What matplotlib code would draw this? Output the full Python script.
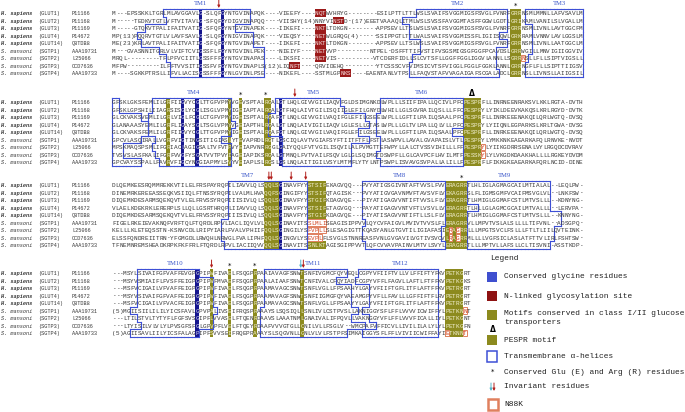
import matplotlib
matplotlib.use("Agg")
import matplotlib.pyplot as plt
from matplotlib.collections import LineCollection
from matplotlib.patches import Rectangle

# ---- row labels ----
species = ['H. sapiens'] * 5 + ['S. mansoni'] * 4
genes = ['(GLUT1)', '(GLUT2)', '(GLUT3)', '(GLUT4)', '(GLUT14)',
         '(SGTP1)', '(SGTP2)', '(SGTP3)', '(SGTP4)']
accessions = ['P11166', 'P11168', 'P11169', 'P14672', 'Q8TDB8',
              'AAA19731', 'L25066', 'CCD7636', 'AAA19733']

# ---- alignment, 4 blocks ----
block1 = [
    "M---EPSSKKLTGRLMLAVGGAVLG-SLQFGYNTGVINAPQK----VIEEFY----NQTWVHRYG--------ESILPTTLTTLWSLSVAIFSVGGMIGSFSVGLFVNRFGRRNSMLMMNLLAFVSAVLM",
    "M-----TEDKVTGTLVFTVITAVLG-SFQFGYDIGVINAPQQ----VIISHY(14)NNYVINSTD-(17)EEETVAAAQLITMLWSLSVSSFAVGGMTASFFGGWLGDTLGRIKAMLVANILSLVGALLM",
    "M-----GTQKVTPALIFAITVATIG-SFQFGYNTGVINAPEK----IIKEFI----NKTLTDKGN--------APPSEVLLTSLWSLSVAIFSVGGMIGSFSVGLFVNRFGRRNSMLIVNLLAVTGGCFM",
    "MP(13)PQQRVTGTLVLAVFSAVLG-SLQFGYNIGVINAPQK----VIEQSY----NETWLGRQG(4)-----SSIPPGTLTTLWALSVAIFSVGGMISSFLIGIISQWLGRKRAMLVNNVLAVLGGSLM",
    "ME(23)KRLAVTPALIFAITVATIG-SFQFGYNTGVINAPET----IIKEFI----NKTLTDKGN--------APPSEVLLTSLWSLSVAIFSVGGMIGSFSVGLFVNRFGRRNSMLIVNLLAATGGCLM",
    "M---GVASNNITGRLVLVIFTCVIGSSFLFGYNTGVINLPEK----NIEIYF----NETVVP---------NTPEL-DSFFTTIFVSTIFVSGSMIGSGFGGFPCAVDSLGRRWGILLMNVIGIIGGVIV",
    "MRQL---------TFLPFVCIITLGSSFFFGYNTGVINAPAS----LIKSFI----NETVIS----------VTCDERFIDLLSLCVTSFLLGGFFGGLIGGVLANNLLSGRRNSLLFLLSIPTVIGSLL",
    "MFPW---------ILFFTVVSITIGSSFVFGYNTGVINAPLS(12)LIQNFT----QRVIDEHQ---------YTCSSSCVFVIMSICVTSFVIGGLFGGLFGGKLANNLGRRNGFLFLLSIPTTIIGSV",
    "M----SGKKPTRSLLIFVLLACISGSSFFFGYNLGVINLPSE----NIKEFL----SSTMLGPNKS----EAENTANLVTPSLLFAQVSTAFVVAGAIGAFSCGALADCLGRRNSLLIVNSLLAIIGSIL",
]
block2 = [
    "GFSKLGKSFEMLILGRFIIGVYCGLTTGFVPMYVGEVSPTALRGALGTLHQLGIVVGILIAQVFGLDSIMGNKDLWPLLLSIIFIPALLQCIVLPFCPESPRFLLINRNEENRAKSVLKKLRGTA-DVTH",
    "GFSKLGPSHILIIAGRSISGLYCGLISGLVPMYIGEIAPTALRGALGTFHQLAIVTGILISQIIGLEFILGNYDLWHILLGLSGVRAILQSLLLFFCPESPRYLYIKLDEEVKAKQSLKRLRGYD-DVTK",
    "GLCKVAKSVEMLILGRLVIGLFCGLCTGFVPMYIGEISPTALRGAFGTLNQLGIVVGILVAQIFGLEFILGSEELWPLLLGFTILPAILQSAALPFCPESPRFLLINRKEEENAKQILQRLWGTQ-DVSQ",
    "GLANAAASYEMLILGRFLIGAYSGLTSGLVPMYVGEIAPTHLRGALGTLNQLAIVIGILIAQVLGLESLLGTASLWPLLLGLTVLPALLQLVLLPFCPESPRYLYIIQNLEGPARKSLKRLTGWA-DVSG",
    "GLCKVAKSFEMLILGRFIIGVYCGLTTGFVPMYIGEISPTALRGAFGTLNQLGIVVGILVAQIFGLEFILGSEELWPLLLGFTILPAILQSAALPFCPESPRFLLINRKEEENAKQILQRLWGTQ-DVSQ",
    "GPCVLASQIRALLVGRFVIGTINGSITIGIASLYTEVAPRDLRGTLGSCIQLAVTVGIAFSYFTIITFTFLFSTLASWPVLLAVALGVAPAISLVTLPESPRYLYMKKNKEAEARKAFQLRNVKE-NVDT",
    "MPSKMAQSPSMLIFGRIACLAGIGSALTVFVTPVYEIAPVNRRGGLGAIYQQLFVTVGILISQVILALPVMGTTEFWPYLLALCTVSSVIHILLLFFPESPRYLYIIKGDRRSENALVYLRGQDCDVRAV",
    "TVSVSLASFKALIFGRFVVGFYSGATVVTPVYIAGEIAPIKSRGALGTMNQLFVTVAILFSQVLGLGLSQIMGTDSWPFLLGLCAVPCFLHVILMTFPESSKYLYLVKGDKDAAKHALLLLRGKEYDVDM",
    "GPCVAYSSPALLFAVRVFIGCYNGGIAPMYLSVYVEIAPLSLRGSLGSLNQLAITIGILVSYLMTMFLYTYLNTPSWPLISVAVGSVPALLALILLFPESPRFLFIKKGKEAEARKAFQRLNCID-DINE",
]
block3 = [
    "DLQEMKEESRQMMREKKVTILELFRSPAYRQPILIAVVLQLSQQLSGINAVFYYSTSIFEKAGVQQ---PVYATIGSGIVNTAFTVVSLFVVERAGRRTLHLIGLAGMAGCAILMTIALAL--LEQLPW-",
    "DINEMRKEREEASSEQKVSIIQLFTNSSYRQPILVALMLHVAQQFSGINGIFYYSTSIFQTAGISK---PVYATIGVGAVNMVFTAVSVFLVEKAGRRSLFLIGMSGMFVCAIFMSVGLVL--LNKFSW-",
    "DIQEMKDESARMSQEKQVTVLELFRVSSYRQPIIISIVLQLSQQLSGINAVFYYSTGIFKDAGVQE---PIYATIGAGVVNTIFTVVSLFLVERAGRRTLHMIGLGGMAFCSTLMTVSLLL--KDNYNG-",
    "VLAELKDEKRKLERERPLSLLQLLGSRTHRQPLIIAVVLQLSQQLSGINAVFYYSTSIFETAGVGQ---PAYATIGAGVVNTVFTLVSVLLVERAGRRTLHLLGLAGMCGCAILMTVALLL--LERVPA-",
    "DIQEMKDESARMSQEKQVTVLELFRVSSYRQPIIISIVLQLSQQLSGINAVFYYSTGIFKDAGVQE---PIYATISAGVVNTIFTLLSLFLVERAGRRTLHMIGLGGMAFCSTLMTVSLLL--KNNYNG-",
    "FIGELRKEIEVAKNQFVRFTQLFTQRDLRPVLIACLIQVLVLQQLSGINAVITSSLMLISEAGISIPPVVLQYCVFAIGVLMVIVTVVSLFLERAGRRVLLMPVTVSLALSLLLLTIFVNL--ADSGPQ-",
    "KELLLKLETEQSSTN-KSNVCDLLRIPYIARLFVALVPHIIFQQLSGINGILYSFVPLLSLESAGIGTTKQASYANLGTGVTILIGIAFASIERAGRRLLLMPGTSVCLFSLLLFTLTLIILQVTEINK-",
    "ELSSFQNDREIITRN-YFGMGDLLRWQHLNRWGLFVALIPHFQQLSGINGVLYSEVPLFLSVGLSTNNREASFVNLGVGAVILVGTIVSVCVLRAGRRMLLLLVGFSICLASLATFTTVLIRLFSHTSW-",
    "TFNEMNREMSHEADKRPKFKFFRLFTQRDLRPVLIACIIQVVQQLSGINAVITSSNLKTAGISGIPPVVTLQFCVVAVPAINVLMTVLSVYLERAGRRTLLLMPTVLLAFSLLCLTISVNI-ASSTKDP-",
]
block4 = [
    "---MSYLSIVAIFGFVAFFEVGPGPIPWFIVAELFSQGPRPAAIAVAGFSNWTSNFIVGMCFQYVEQLCGPYVFIIFTVLLVLFFIFTYFKVPETKGRT",
    "---MSYVSMIAIFLFVSFFEIGPGPIPWFMVAEFFSQGPRPAALAIAAFSNWTCNFIVALCFQYIADFCGPYVFFLFAGVLLAFTLFTFFKVPETKGKS",
    "---MSFVCIGAILVFVAFFEIGPGPIPWFIVAELFSQGPRPAAMAVAGCSNWTSNFLVGLLFPSAAHYLGAYVFIIFTGFLITFLAFTFFKVPETRGRT",
    "---MSYVSIVAIFGFVAFFEIGPGPIPWFIVAELFSQGPRPAAMAVAGFSNWTSNFIIGMGFQYVAEAMGPYVFLLFAVLLLGFFIFTFLRVPETRGRT",
    "---MSFVCIGAILVFVACFEIGPGPIPWFIVAELFSQGPRPAAMAVAGCSNWTSNFLVGLLFPSAAYYLGAYVFIIFTGFLITFLAFTFFKVPETRGRT",
    "(5)MGIISIILILILYICSFAVLGPVPALIVSEIFRQSPRAAAYSLSQSIQLLSNLIVLCSTPVSLLAKNIGGYSFLFFLVVVVICWIFFYLPETKNNT",
    "---LTILSTVLTYTYFLFGFSVSGIPFLVVASELFTQENRDAAVSLAAATNMLGNAIVALIFPQVLLVAKNGGYVFLFFLVVVFICALLIYLPETKGNT",
    "---LTYISILVLVLYLPVSGFSFGLGPVPFLVELFTQEYRDAAFVVVGTGLLCNILVLLFSGLV--WMCPAFVFFICVLLIVILILALYLYLPETKGFN",
    "(5)AGIISAVLIILYICSFALAGPIPFSVVSEIFRQEPRAAAYSLSQGVNLLGNLVLVLFSTPFSIMKAIGGYSFLFFLVIVIICWIFFAYIETKNNT",
]
blocks = [block1, block2, block3, block4]

# ---- annotations (block index, column numbers are 1-based) ----
tm_labels = [(0, 'TM1', 25), (0, 'TM2', 96), (0, 'TM3', 124),
             (1, 'TM4', 23), (1, 'TM5', 56), (1, 'TM6', 86),
             (2, 'TM7', 38), (2, 'TM8', 80), (2, 'TM9', 109),
             (3, 'TM10', 18), (3, 'TM11', 56), (3, 'TM12', 80)]

# helix extent per row: (first column, last column)
tm_spans = {
    0: [[(15, 38), (16, 38), (10, 34), (8, 39), (9, 39), (14, 42), (16, 42), (17, 42), (17, 42)],
        [(85, 109), (81, 109), (83, 109), (83, 107), (86, 109), (86, 106), (84, 106), (83, 106), (83, 107)],
        [(115, 130), (115, 130), (117, 130), (117, 130), (117, 130), (117, 130), (116, 130), (115, 130), (115, 130)]],
    1: [[(1, 2), (1, 2), (1, 8), (1, 10), (1, 10), (1, 8), (1, 3), (1, 3), (1, 8)],
        [(12, 33), (12, 33), (11, 33), (11, 34), (11, 33), (13, 30), (12, 33), (13, 33), (14, 33)],
        [(46, 63), (46, 64), (44, 70), (44, 71), (44, 68), (48, 71), (48, 66), (48, 66), (48, 66)],
        [(75, 97), (75, 97), (74, 97), (74, 97), (74, 94), (75, 97), (75, 97), (74, 97), (75, 97)]],
    2: [[(33, 54), (33, 54), (33, 54), (33, 54), (33, 54), (31, 54), (31, 54), (31, 54), (32, 54)],
        [(70, 92), (70, 92), (70, 92), (70, 92), (70, 92), (71, 92), (70, 91), (70, 91), (71, 92)],
        [(99, 121), (99, 121), (99, 121), (102, 121), (99, 124), (99, 124), (99, 122), (99, 122), (99, 121)]],
    3: [[(8, 24), (8, 28), (8, 28), (8, 28), (8, 28), (6, 29), (8, 28), (9, 28), (6, 24)],
        [(43, 65), (43, 62), (43, 66), (43, 66), (43, 66), (42, 68), (42, 66), (42, 70), (42, 65)],
        [(69, 90), (68, 90), (72, 90), (72, 90), (72, 90), (70, 90), (72, 90), (74, 90), (70, 90)]],
}

glycine_cols = {0: [25, 31], 1: [20, 24, 47], 2: [47], 3: [24]}

# (block, first col, last col, rows or None for all)
motif_cells = [(0, 111, 113, None),
               (1, 16, 16, None), (1, 33, 33, None), (1, 36, 36, None), (1, 43, 44, None), (1, 98, 102, None),
               (2, 43, 46, None), (2, 55, 59, [0, 1, 2, 3, 4, 8]), (2, 93, 98, None),
               (3, 28, 28, None), (3, 33, 33, None), (3, 40, 40, None), (3, 53, 53, None), (3, 93, 97, None)]

# N-linked glycosylation sites (block, row, first col, last col)
glyco_sites = [(0, 0, 57, 59), (0, 1, 62, 64), (0, 2, 57, 59), (0, 3, 57, 59), (0, 4, 57, 59),
               (0, 5, 57, 59), (0, 6, 57, 59), (0, 7, 50, 52), (0, 8, 64, 66)]

# N88K-style boxes (block, row, first col, last col)
n88k_boxes = [(0, 6, 114, 114), (1, 6, 103, 103), (1, 7, 103, 103),
              (2, 5, 55, 59), (2, 6, 55, 57), (2, 6, 58, 59), (2, 7, 55, 57), (2, 7, 58, 58),
              (2, 6, 94, 94), (2, 6, 96, 96), (2, 7, 94, 94), (2, 7, 96, 96),
              (3, 5, 98, 98), (3, 8, 93, 93), (3, 8, 98, 98)]

stars = [(0, 112), (1, 36), (1, 43), (2, 97), (3, 33), (3, 40)]
# (block, column, colour, horizontal nudge in px)
arrows = [(0, 30, 'red', 0), (1, 51, 'red', 0), (2, 44, 'red', -0.6), (2, 45, 'red', -1.8),
          (2, 50, 'red', 0), (2, 54, 'red', 0), (3, 28, 'red', 0), (3, 53, 'cyan', -1.3),
          (3, 53, 'red', 1.3)]
deltas = [(1, 100)]

legend_labels = ['Conserved glycine residues', 'N-linked glycosylation site',
                 'Motifs conserved in class I/II glucose\ntransporters', 'PESPR motif',
                 'Transmembrane \u03b1-helices', 'Conserved Glu (E) and Arg (R) residues',
                 'Invariant residues', 'N88K']

# ---- styling / geometry ----
MONO = 'Liberation Mono'
SEQ_PT = 4.35
LAB_PT = 3.8
X0, CW, PITCH = 112.0, 3.62, 7.5
block_top = [13, 102, 185, 273]
NAVY, OLIVE, DRED = '#15158e', '#8c8a1e', '#9b1a1a'
TMBLUE, LBLUE, ORANGE = '#3d4fd6', '#3552c8', '#e0805e'
ARROW_COL = {'red': '#b3221e', 'cyan': '#56b4c8'}
TXT = '#383838'


def col_x(c):
    return X0 + (c - 1) * CW


def row_y(b, r):
    return block_top[b] + r * PITCH


fig = plt.figure(figsize=(6.85, 4.12), dpi=100)
ax = fig.add_axes([0, 0, 1, 1])
ax.set_xlim(0, 685)
ax.set_ylim(412, 0)
ax.axis('off')

txt_col = {}

# backgrounds
for b, cols in glycine_cols.items():
    n = len(blocks[b])
    for c in cols:
        ax.add_patch(Rectangle((col_x(c), row_y(b, 0) - PITCH / 2), CW, n * PITCH, fc=NAVY, ec='none'))
        for r in range(n):
            txt_col[(b, r, c)] = '#d8d8f0'

for b, c1, c2, rows in motif_cells:
    rows = range(len(blocks[b])) if rows is None else rows
    for r in rows:
        ax.add_patch(Rectangle((col_x(c1), row_y(b, r) - PITCH / 2), (c2 - c1 + 1) * CW, PITCH,
                               fc=OLIVE, ec='none'))
        for c in range(c1, c2 + 1):
            txt_col[(b, r, c)] = '#f2f0d0'

for b, r, c1, c2 in glyco_sites:
    ax.add_patch(Rectangle((col_x(c1), row_y(b, r) - PITCH / 2), (c2 - c1 + 1) * CW, PITCH,
                           fc=DRED, ec='none'))
    for c in range(c1, c2 + 1):
        txt_col[(b, r, c)] = '#f6e0e0'

for b, r, c1, c2 in n88k_boxes:
    ax.add_patch(Rectangle((col_x(c1), row_y(b, r) - PITCH / 2 + 0.4), (c2 - c1 + 1) * CW, PITCH - 0.8,
                           fc='white', ec=ORANGE, lw=0.7))
    for c in range(c1, c2 + 1):
        txt_col[(b, r, c)] = '#d0401c'

# residues and row labels
for b, blk in enumerate(blocks):
    for r, seq in enumerate(blk):
        yb = row_y(b, r) + 2.1
        for i, ch in enumerate(seq):
            c = i + 1
            ax.text(col_x(c) + CW / 2, yb, ch, family=MONO, fontsize=SEQ_PT, ha='center',
                    va='baseline', color=txt_col.get((b, r, c), TXT))
        bold = 'bold' if species[r].startswith('H.') else 'normal'
        ax.text(1, yb, species[r], family=MONO, fontsize=LAB_PT, style='italic',
                weight=bold, va='baseline', color=TXT)
        ax.text(38, yb, genes[r], family=MONO, fontsize=LAB_PT, va='baseline', color=TXT)
        ax.text(72, yb, accessions[r], family=MONO, fontsize=LAB_PT, va='baseline', color=TXT)

# transmembrane outlines (boundary of the union of cells)
segs = []
for b, helices in tm_spans.items():
    for spans in helices:
        cells = set()
        for r, (s, e) in enumerate(spans):
            for c in range(s, e + 1):
                cells.add((r, c))
        for r, c in cells:
            x1, x2 = col_x(c), col_x(c) + CW
            y1, y2 = row_y(b, r) - PITCH / 2, row_y(b, r) + PITCH / 2
            if (r - 1, c) not in cells:
                segs.append([(x1, y1), (x2, y1)])
            if (r + 1, c) not in cells:
                segs.append([(x1, y2), (x2, y2)])
            if (r, c - 1) not in cells:
                segs.append([(x1, y1), (x1, y2)])
            if (r, c + 1) not in cells:
                segs.append([(x2, y1), (x2, y2)])
ax.add_collection(LineCollection(segs, colors=TMBLUE, linewidths=0.8, capstyle='projecting'))

# labels above each block
for b, name, c in tm_labels:
    ax.text(col_x(c) + CW / 2, row_y(b, 0) - 9.5, name, family='Liberation Serif', fontsize=4.8,
            color=LBLUE, ha='center', va='center')
for b, c in stars:
    ax.text(col_x(c) + CW / 2, row_y(b, 0) - 7, '*', family='DejaVu Sans', fontsize=5,
            ha='center', va='center', color='black')
for b, c, kind, dx in arrows:
    x = col_x(c) + CW / 2 + dx
    ax.annotate('', xy=(x, row_y(b, 0) - 5), xytext=(x, row_y(b, 0) - 13),
                arrowprops=dict(arrowstyle='-|>', color=ARROW_COL[kind], lw=0.7,
                                mutation_scale=3.5, shrinkA=0, shrinkB=0))
for b, c in deltas:
    ax.text(col_x(c) + CW / 2, row_y(b, 0) - 9, '\u0394', family='DejaVu Sans', fontsize=5.5,
            weight='bold', ha='center', va='center', color='black')

# legend
LF = dict(family=MONO, fontsize=5.7, color='#222222', va='center')
ax.text(490, 259, 'Legend', **LF)
icon_y = [277, 296, 315, 340, 356, 372, 387, 404]
text_y = [277, 296, 318, 340, 356, 372, 387, 404]
for k, (iy, ty, lab) in enumerate(zip(icon_y, text_y, legend_labels)):
    if k == 0:
        ax.add_patch(Rectangle((487.5, iy - 5), 10, 10, fc='#3f4fcf', ec='none'))
    elif k == 1:
        ax.add_patch(Rectangle((487.5, iy - 5), 10, 10, fc='#8e1212', ec='none'))
    elif k in (2, 3):
        ax.add_patch(Rectangle((487.5, iy - 5), 10, 10, fc=OLIVE, ec='none'))
    elif k == 4:
        ax.add_patch(Rectangle((487.5, iy - 5.5), 10, 11, fc='white', ec=TMBLUE, lw=1.1))
    elif k == 5:
        ax.text(492.5, iy, '*', family='DejaVu Sans', fontsize=5, ha='center', va='center')
    elif k == 6:
        for dx, kind in ((-1.5, 'cyan'), (1.5, 'red')):
            ax.annotate('', xy=(492.5 + dx, iy + 4), xytext=(492.5 + dx, iy - 4),
                        arrowprops=dict(arrowstyle='-|>', color=ARROW_COL[kind], lw=0.7,
                                        mutation_scale=3.5, shrinkA=0, shrinkB=0))
    else:
        ax.add_patch(Rectangle((488, iy - 5.5), 10, 11, fc='white', ec=ORANGE, lw=1.8))
    ax.text(504, ty, lab, linespacing=1.25, **LF)
ax.text(492.5, 330, '\u0394', family='DejaVu Sans', fontsize=5.5, weight='bold',
        ha='center', va='center', color='black')

fig.savefig('out.png', dpi=100)
